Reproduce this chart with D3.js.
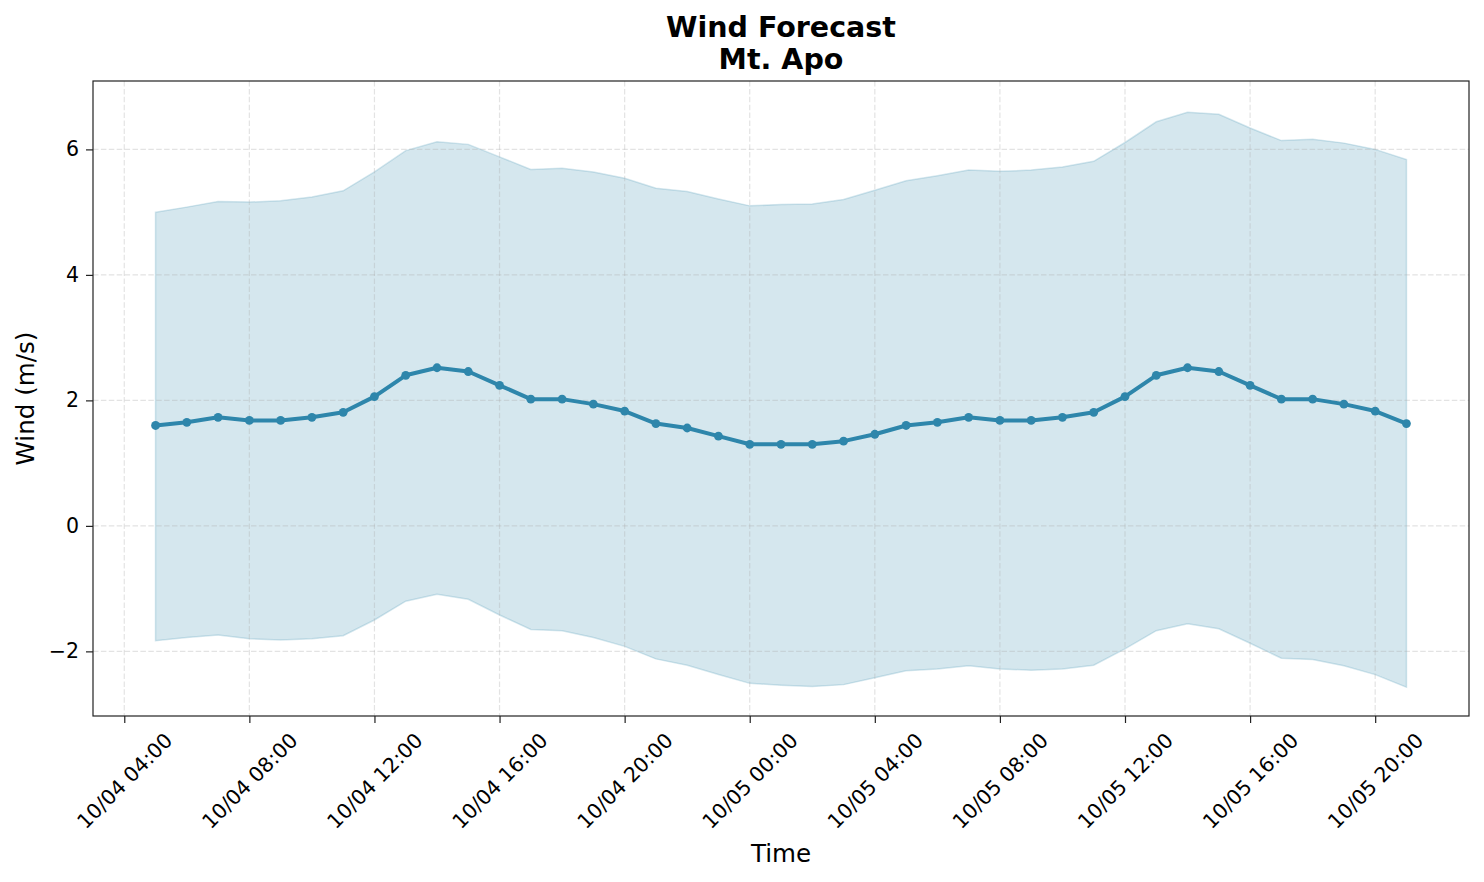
<!DOCTYPE html>
<html>
<head>
<meta charset="utf-8">
<script src="https://cdn.jsdelivr.net/npm/d3@7"></script>
<style>
  html, body { margin: 0; padding: 0; background: #fff; }
  svg { display: block; font-family: "DejaVu Sans", sans-serif; }
</style>
</head>
<body>
<svg id="chart" width="1484" height="882"></svg>
<script>
// ---- data ----
const startTime = "2024-10-04T05:00:00Z";
const hours = d3.range(41); // hourly steps from startTime
const windMean = [1.60, 1.65, 1.73, 1.68, 1.68, 1.73, 1.81, 2.06, 2.40, 2.52, 2.46, 2.24, 2.02, 2.02, 1.94, 1.83, 1.63, 1.56, 1.43, 1.30,
                  1.30, 1.30, 1.35, 1.46, 1.60, 1.65, 1.73, 1.68, 1.68, 1.73, 1.81, 2.06, 2.40, 2.52, 2.46, 2.24, 2.02, 2.02, 1.94, 1.83, 1.63];
const windUpper = [5.00, 5.08, 5.17, 5.16, 5.18, 5.24, 5.34, 5.64, 5.98, 6.12, 6.08, 5.88, 5.68, 5.70, 5.64, 5.54, 5.38, 5.33, 5.21, 5.10,
                   5.12, 5.13, 5.20, 5.35, 5.50, 5.58, 5.67, 5.65, 5.67, 5.72, 5.81, 6.11, 6.44, 6.59, 6.56, 6.34, 6.14, 6.16, 6.10, 6.00, 5.84];
const windLower = [-1.83, -1.78, -1.74, -1.80, -1.82, -1.80, -1.75, -1.50, -1.20, -1.09, -1.17, -1.42, -1.65, -1.67, -1.78, -1.92, -2.12, -2.22, -2.37, -2.51,
                   -2.54, -2.56, -2.53, -2.42, -2.31, -2.28, -2.23, -2.28, -2.30, -2.28, -2.22, -1.96, -1.67, -1.56, -1.64, -1.87, -2.11, -2.13, -2.23, -2.37, -2.57];
const yTicks = [-2, 0, 2, 4, 6];
const titleLines = ["Wind Forecast", "Mt. Apo"];
const xLabel = "Time";
const yLabel = "Wind (m/s)";

// ---- layout ----
const margin = { left: 93, top: 81, right: 1484 - 1469, bottom: 882 - 716 };
const W = 1484, H = 882;
const x0 = margin.left, x1 = W - margin.right, y0 = margin.top, y1 = H - margin.bottom;
const lineColor = "#2E86AB";

const t0 = new Date(startTime);
const times = hours.map(h => d3.utcHour.offset(t0, h));
const rows = times.map((t, i) => ({ t, m: windMean[i], u: windUpper[i], l: windLower[i] }));

const x = d3.scaleUtc()
  .domain([d3.utcHour.offset(t0, -2), d3.utcHour.offset(times[times.length - 1], 2)])
  .range([x0, x1]);
const y = d3.scaleLinear().domain([-3.03, 7.09]).range([y1, y0]);

const svg = d3.select("#chart");
const xTickVals = x.ticks(d3.utcHour.every(4));
const fmt = d3.utcFormat("%m/%d %H:%M");

// band
svg.append("path")
  .datum(rows)
  .attr("d", d3.area().x(d => x(d.t)).y0(d => y(d.l)).y1(d => y(d.u)))
  .attr("fill", lineColor).attr("fill-opacity", 0.2)
  .attr("stroke", lineColor).attr("stroke-opacity", 0.2).attr("stroke-width", 1.5);

// grid
const grid = svg.append("g").attr("stroke", "#b0b0b0").attr("stroke-opacity", 0.35)
  .attr("stroke-width", 1.2).attr("stroke-dasharray", "5.5,2.4");
grid.selectAll("line.gx").data(xTickVals).join("line")
  .attr("x1", d => x(d)).attr("x2", d => x(d)).attr("y1", y0).attr("y2", y1);
grid.selectAll("line.gy").data(yTicks).join("line")
  .attr("y1", d => y(d)).attr("y2", d => y(d)).attr("x1", x0).attr("x2", x1);

// mean line
svg.append("path")
  .datum(rows)
  .attr("d", d3.line().x(d => x(d.t)).y(d => y(d.m)))
  .attr("fill", "none").attr("stroke", lineColor).attr("stroke-width", 4)
  .attr("stroke-linejoin", "round");
svg.append("g").selectAll("circle").data(rows).join("circle")
  .attr("cx", d => x(d.t)).attr("cy", d => y(d.m)).attr("r", 4.4)
  .attr("fill", lineColor);

// axes
const xAxis = d3.axisBottom(x).tickValues(xTickVals).tickFormat(fmt).tickSize(7).tickPadding(7);
const gx = svg.append("g").attr("transform", `translate(0,${y1})`).call(xAxis);
gx.select(".domain").remove();
gx.selectAll(".tick line").attr("stroke", "#222").attr("stroke-width", 1.2);
gx.selectAll(".tick text")
  .attr("font-size", 20.5).attr("fill", "#000")
  .attr("font-family", "DejaVu Sans")
  .attr("y", null).attr("dy", null)
  .attr("text-anchor", "middle").attr("dominant-baseline", "central")
  .attr("transform", "translate(0,65) rotate(-45)");

const yAxis = d3.axisLeft(y).tickValues(yTicks).tickFormat(d => d < 0 ? "\u2212" + Math.abs(d) : String(d)).tickSize(7).tickPadding(7);
const gy = svg.append("g").attr("transform", `translate(${x0},0)`).call(yAxis);
gy.select(".domain").remove();
gy.selectAll(".tick line").attr("stroke", "#222").attr("stroke-width", 1.2);
gy.selectAll(".tick text").attr("font-size", 20.5).attr("fill", "#000").attr("font-family", "DejaVu Sans");

// frame
svg.append("rect").attr("x", x0).attr("y", y0).attr("width", x1 - x0).attr("height", y1 - y0)
  .attr("fill", "none").attr("stroke", "#222").attr("stroke-width", 1.2);

// labels
svg.append("text").attr("x", (x0 + x1) / 2).attr("y", 862).attr("text-anchor", "middle")
  .attr("font-size", 24.6).attr("fill", "#000").text(xLabel);
svg.append("text").attr("transform", `translate(34,${(y0 + y1) / 2}) rotate(-90)`)
  .attr("text-anchor", "middle").attr("font-size", 24.6).attr("fill", "#000").text(yLabel);

// title
svg.append("g").selectAll("text").data(titleLines).join("text")
  .attr("x", (x0 + x1) / 2).attr("y", (d, i) => 37 + i * 31.5)
  .attr("text-anchor", "middle").attr("font-size", 28.5).attr("font-weight", "bold")
  .attr("fill", "#000").text(d => d);
</script>
</body>
</html>
